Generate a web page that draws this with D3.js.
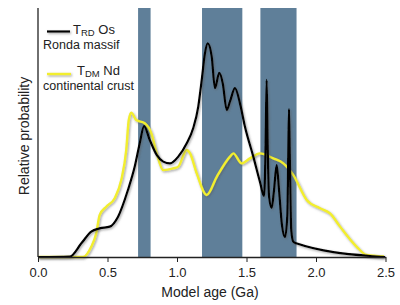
<!DOCTYPE html>
<html>
<head>
<meta charset="utf-8">
<script src="https://cdn.jsdelivr.net/npm/d3@7"></script>
<style>
  body { margin: 0; background: #fff; }
  text { font-family: "Liberation Sans", Arial, sans-serif; fill: #222; }
</style>
</head>
<body>
<div class="plot"></div>
<script>
// age ticks (Ga)
const xTicks = [0, 0.5, 1.0, 1.5, 2.0, 2.5];

// shaded age bands (Ga)
const bandStart = [0.72, 1.18, 1.60];
const bandEnd   = [0.81, 1.47, 1.86];

// T_RD Os, Ronda massif (black)
const osAge  = [0, 0.23, 0.312, 0.383, 0.444, 0.516, 0.576, 0.647, 0.696, 0.732, 0.763, 0.804, 0.854, 0.901, 0.95,
                1.009, 1.07, 1.117, 1.153, 1.178, 1.201, 1.221, 1.25, 1.273, 1.304, 1.329, 1.358, 1.381, 1.417,
                1.453, 1.489, 1.549, 1.597, 1.626, 1.637, 1.645, 1.653, 1.662, 1.681, 1.698, 1.717, 1.734, 1.755,
                1.777, 1.794, 1.801, 1.806, 1.812, 1.822, 1.837, 1.863, 2.388, 2.496];
const osProb = [0, 0.2, 5.5, 10.2, 11.5, 12.2, 16.2, 26.9, 36.3, 45.7, 52.6, 47.0, 41.0, 38.3, 37.6,
                40.3, 45.7, 51.8, 60.4, 71.1, 81.8, 85.8, 80.4, 67.8, 74.0, 69.8, 59.0, 62.4, 67.8,
                61.7, 52.3, 40.3, 30.1, 24.5, 43.0, 71.1, 43.0, 24.5, 19.7, 26.9, 36.9, 26.9, 12.9,
                8.0, 16.9, 43.0, 59.4, 39.0, 10.8, 6.1, 5.4, 0.4, 0];

// T_DM Nd, continental crust (yellow)
const ndAge  = [0, 0.324, 0.383, 0.419, 0.444, 0.491, 0.552, 0.599, 0.635, 0.653, 0.671, 0.707, 0.768, 0.815,
                0.854, 0.901, 0.973, 1.009, 1.07, 1.094, 1.142, 1.214, 1.286, 1.381, 1.405, 1.465, 1.525, 1.597,
                1.693, 1.765, 1.837, 1.933, 2.029, 2.101, 2.173, 2.293, 2.365, 2.489];
const ndProb = [0, 0, 4.1, 9.5, 16.9, 20.2, 23.6, 30.9, 43.0, 55.0, 58.0, 55.0, 53.7, 49.7,
                41.6, 34.9, 35.6, 36.3, 43.0, 41.6, 33.6, 24.9, 32.2, 40.3, 41.6, 37.6, 39.6, 41.6,
                39.6, 37.6, 32.9, 22.9, 19.6, 17.5, 12.2, 4.1, 0.8, 0.2];

const width = 400, height = 305;
const margin = {top: 8, left: 38, right: 14, bottom: 48};
const plotHeight = height - margin.top - margin.bottom;

const xScale = d3.scaleLinear().domain([0, 2.5]).range([0, 347.5]);
const yScale = d3.scaleLinear().domain([0, 100]).range([plotHeight, 0]);

const svg = d3.select('.plot').append('svg')
  .attr('width', width)
  .attr('height', height);

// soft shadow under the curves (user space so flat lines keep it too)
const defs = svg.append('defs');
defs.append('filter').attr('id', 'shadow')
  .attr('filterUnits', 'userSpaceOnUse')
  .attr('x', -50).attr('y', -50).attr('width', 500).attr('height', 400)
  .append('feDropShadow')
  .attr('dx', 1).attr('dy', 1.2).attr('stdDeviation', 0.9)
  .attr('flood-color', '#555').attr('flood-opacity', 0.55);

const g = svg.append('g').attr('transform', `translate(${margin.left},${margin.top})`);

// bands
g.selectAll('.band')
  .data(bandStart.map((s, i) => ({s: s, e: bandEnd[i]})))
  .enter().append('rect')
  .attr('class', 'band')
  .attr('x', d => xScale(d.s))
  .attr('width', d => xScale(d.e) - xScale(d.s))
  .attr('y', yScale(100))
  .attr('height', yScale(0) - yScale(100))
  .attr('fill', '#5f7f99');

// curves
const line = d3.line()
  .x(d => xScale(d[0]))
  .y(d => yScale(d[1]))
  .curve(d3.curveMonotoneX);

const ndData = ndAge.map((a, i) => [a, ndProb[i]]);
const osData = osAge.map((a, i) => [a, osProb[i]]);

g.append('path')
  .attr('d', line(ndData))
  .attr('fill', 'none')
  .attr('stroke', '#f2ee2e')
  .attr('stroke-width', 2.4)
  .attr('filter', 'url(#shadow)');

g.append('path')
  .attr('d', line(osData))
  .attr('fill', 'none')
  .attr('stroke', '#000')
  .attr('stroke-width', 2.2)
  .attr('stroke-linejoin', 'round')
  .attr('filter', 'url(#shadow)');

// axes
const xAxis = g.append('g')
  .attr('transform', `translate(0,${plotHeight})`)
  .call(d3.axisBottom(xScale).tickValues(xTicks).tickFormat(d3.format('.1f')).tickSize(5).tickSizeOuter(0));
xAxis.select('.domain').attr('stroke', '#222').attr('stroke-width', 1.3);
xAxis.selectAll('.tick line').attr('stroke', '#222');
xAxis.selectAll('.tick text')
  .attr('font-size', 13)
  .attr('font-family', '"Liberation Sans", Arial, sans-serif')
  .attr('fill', '#222')
  .attr('dy', '0.95em');

g.append('line')
  .attr('x1', 0).attr('x2', 0)
  .attr('y1', 0).attr('y2', plotHeight)
  .attr('stroke', '#222')
  .attr('stroke-width', 1.3);

// axis labels
g.append('text')
  .attr('x', 172)
  .attr('y', plotHeight + 40)
  .attr('text-anchor', 'middle')
  .attr('font-size', 14)
  .text('Model age (Ga)');

g.append('text')
  .attr('transform', 'rotate(-90)')
  .attr('x', -128)
  .attr('y', -9)
  .attr('text-anchor', 'middle')
  .attr('font-size', 14)
  .text('Relative probability');

// legend
const legend = svg.append('g');
legend.append('line')
  .attr('x1', 47).attr('x2', 70).attr('y1', 31.5).attr('y2', 31.5)
  .attr('stroke', '#000').attr('stroke-width', 2.2).attr('filter', 'url(#shadow)');
legend.append('line')
  .attr('x1', 47).attr('x2', 71).attr('y1', 74).attr('y2', 74)
  .attr('stroke', '#f2ee2e').attr('stroke-width', 2.4).attr('filter', 'url(#shadow)');

const t1 = legend.append('text').attr('x', 73).attr('y', 34).attr('font-size', 13);
t1.append('tspan').text('T');
t1.append('tspan').attr('font-size', 9.5).attr('dy', 2).text('RD');
t1.append('tspan').attr('dy', -2).text(' Os');
legend.append('text').attr('x', 43).attr('y', 48.5).attr('font-size', 12.5).text('Ronda massif');

const t2 = legend.append('text').attr('x', 77).attr('y', 75).attr('font-size', 13);
t2.append('tspan').text('T');
t2.append('tspan').attr('font-size', 9.5).attr('dy', 2).text('DM');
t2.append('tspan').attr('dy', -2).text(' Nd');
legend.append('text').attr('x', 43).attr('y', 90).attr('font-size', 12.5).text('continental crust');
</script>
</body>
</html>
